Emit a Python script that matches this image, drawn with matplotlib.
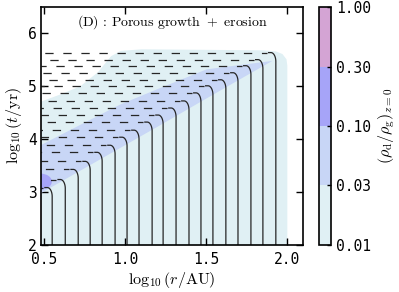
import numpy as np
import matplotlib
matplotlib.use('Agg')
import matplotlib.pyplot as plt
from matplotlib.colors import ListedColormap, BoundaryNorm
from matplotlib.patches import Ellipse
import matplotlib.cm as cm

plt.rcParams['mathtext.fontset'] = 'cm'
plt.rcParams['font.family'] = 'DejaVu Sans Mono'
plt.rcParams['lines.scale_dashes'] = False

# colour levels of (rho_d/rho_g)_{z=0}
levels = [0.01, 0.03, 0.1, 0.3, 1.0]
level_labels = ['0.01', '0.03', '0.10', '0.30', '1.00']
level_colors = ['#e0f0f4', '#c8d6f6', '#a6a4f8', '#d4a4d4']

# upper edge of the region where the ratio is above 0.01
dom_x = [0.477, 0.60, 0.72, 0.83, 0.91, 0.97, 1.10, 1.50, 1.85, 1.93, 1.97, 1.995, 2.0]
dom_top = [4.72, 4.86, 5.01, 5.28, 5.58, 5.68, 5.71, 5.70, 5.69, 5.67, 5.62, 5.52, 5.40]

# band where the ratio is 0.03 - 0.1
band_x = [0.477, 0.70, 0.97, 1.20, 1.50, 1.70, 1.907]
band_lo = [2.99, 3.38, 3.85, 4.25, 4.78, 5.13, 5.49]
band_hi = [3.90, 4.25, 4.67, 4.96, 5.33, 5.41, 5.49]

# small 0.1 - 0.3 patch at the inner edge
spot_r, spot_t = 0.477, 3.20
spot_w, spot_h = 0.14, 0.30

# contour lines: radius of the vertical part and time where they bend
line_r = [0.549, 0.630, 0.710, 0.784, 0.858, 0.938, 1.012, 1.086, 1.167, 1.235,
          1.315, 1.395, 1.469, 1.543, 1.623, 1.698, 1.778, 1.852, 1.932]
line_t = [3.086, 3.238, 3.429, 3.581, 3.752, 3.886, 4.038, 4.171, 4.324, 4.457,
          4.590, 4.724, 4.876, 5.010, 5.124, 5.257, 5.390, 5.505, 5.638]

fig = plt.figure(figsize=(3.99, 2.92), dpi=100)
ax = fig.add_axes([0.1028, 0.161, 0.6566, 0.815])
cax = fig.add_axes([0.7995, 0.161, 0.030, 0.815])

ax.fill_between(dom_x, 2.0, dom_top, color=level_colors[0], lw=0, zorder=1)
ax.fill_between(band_x, band_lo, band_hi, color=level_colors[1], lw=0, zorder=2)
ax.add_patch(Ellipse((spot_r, spot_t), spot_w, spot_h, color=level_colors[2], lw=0, zorder=3))

rx, ry = 0.03, 0.17
th = np.linspace(0, np.pi / 2, 20)
lc = '#262626'
for i, (r0, t0) in enumerate(zip(line_r, line_t)):
    # dashed part is drawn from the bend towards the inner edge, so the
    # dash phase differs from row to row like in a contour plot
    ax.plot([r0 - rx - 0.025, 0.477], [t0, t0], color=lc, lw=0.9,
            linestyle=(2.0, (6.0, 7.0)), dash_capstyle='butt', zorder=4)
    arc_x = r0 - rx + rx * np.sin(th)
    arc_y = t0 - ry + ry * np.cos(th)
    ax.plot(np.r_[r0 - rx - 0.015, arc_x, r0], np.r_[t0, arc_y, 2.0], color=lc, lw=0.9, zorder=4)

ax.set_xlim(0.48, 2.1)
ax.set_ylim(2, 6.5)
ax.set_xticks([0.5, 1.0, 1.5, 2.0])
ax.set_xticklabels(['0.5', '1.0', '1.5', '2.0'])
ax.set_yticks([2, 3, 4, 5, 6])
ax.tick_params(direction='in', length=5, width=1, top=True, right=True, labelsize=10.5)
ax.tick_params(axis='x', pad=5)
ax.tick_params(axis='y', pad=3)
for s in ax.spines.values():
    s.set_linewidth(1.2)
    s.set_zorder(6)

ax.text(0.5, 0.937, r'$\mathrm{(D)\,:\,Porous\ growth\ +\ erosion}$', transform=ax.transAxes,
        ha='center', va='center', fontsize=10)
ax.set_xlabel(r'$\log_{10}(r/\mathrm{AU})$', fontsize=11.5, labelpad=2)
ax.set_ylabel(r'$\log_{10}(t/\mathrm{yr})$', fontsize=11.5, labelpad=3)

cmap = ListedColormap(level_colors)
norm = BoundaryNorm(levels, cmap.N)
cb = fig.colorbar(cm.ScalarMappable(norm=norm, cmap=cmap), cax=cax, ticks=levels)
cb.ax.set_yticklabels(level_labels)
cb.ax.tick_params(direction='in', length=3, width=1, labelsize=10.5)
cb.outline.set_linewidth(1.2)
cb.set_label(r'$(\rho_{\rm d}/\rho_{\rm g})_{z=0}$', fontsize=11.5, labelpad=4)

fig.savefig('out.png', dpi=100)
